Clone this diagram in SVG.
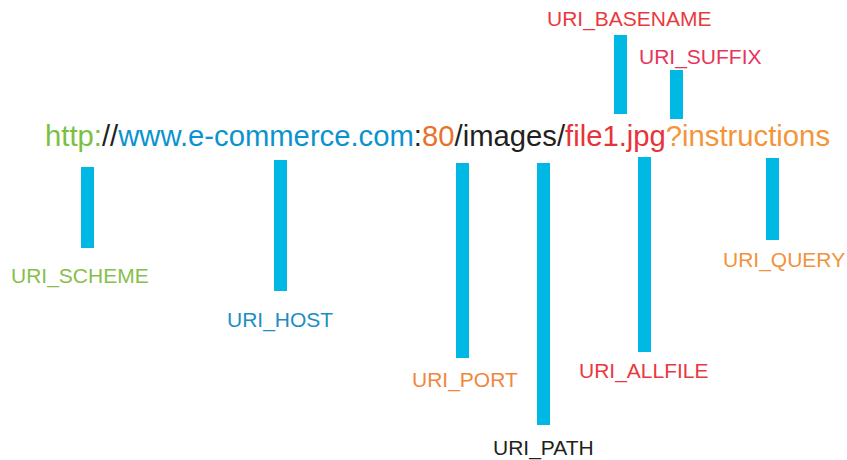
<svg xmlns="http://www.w3.org/2000/svg" width="847" height="460" viewBox="0 0 847 460">
<style>
text{font-family:"Liberation Sans",Arial,Helvetica,sans-serif}
.url{font-size:29.3px}
.lbl{font-size:21px}
.bar{fill:#00b8e4}
.k{fill:#231f20}
</style>
<rect width="847" height="460" fill="#ffffff"/>
<g id="connectors">
<rect class="bar" x="81" y="167" width="13" height="81"/>
<rect class="bar" x="274" y="160" width="13" height="131"/>
<rect class="bar" x="456" y="163" width="13" height="195"/>
<rect class="bar" x="537" y="163" width="13" height="262"/>
<rect class="bar" x="638" y="157" width="13" height="195"/>
<rect class="bar" x="766" y="158" width="13" height="82"/>
<rect class="bar" x="614" y="35" width="13" height="79"/>
<rect class="bar" x="670" y="70" width="13" height="49"/>
</g>
<g id="url">
<text class="url" x="45" y="146" textLength="785" lengthAdjust="spacingAndGlyphs"><tspan fill="#7ac143">http:</tspan><tspan class="k">//</tspan><tspan fill="#0b93d0">www.e-commerce.com</tspan><tspan class="k">:</tspan><tspan fill="#e8722c">80</tspan><tspan class="k">/images/</tspan><tspan fill="#e8333a">file1.jpg</tspan><tspan fill="#f4953a">?instructions</tspan></text>
</g>
<g id="uri_scheme"><text class="lbl" x="11" y="283" fill="#86c04b">URI_SCHEME</text></g>
<g id="uri_host"><text class="lbl" x="227" y="327" fill="#1b8ec3">URI_HOST</text></g>
<g id="uri_port"><text class="lbl" x="412" y="387" fill="#f0873e">URI_PORT</text></g>
<g id="uri_path"><text class="lbl" x="493" y="455" fill="#231f20">URI_PATH</text></g>
<g id="uri_allfile"><text class="lbl" x="579" y="378" fill="#e8393e">URI_ALLFILE</text></g>
<g id="uri_query"><text class="lbl" x="723" y="267" fill="#f0933b">URI_QUERY</text></g>
<g id="uri_basename"><text class="lbl" x="547" y="26" fill="#e8393e">URI_BASENAME</text></g>
<g id="uri_suffix"><text class="lbl" x="639" y="64" fill="#e8335a">URI_SUFFIX</text></g>
</svg>
